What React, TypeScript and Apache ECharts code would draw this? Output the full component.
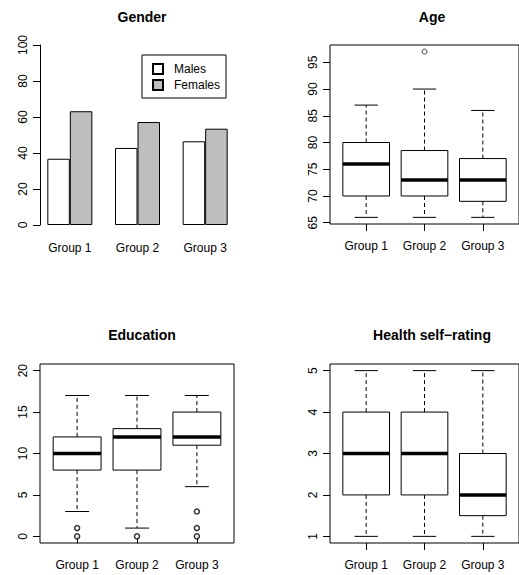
import React, { useEffect, useRef } from 'react';
import * as echarts from 'echarts';

const groups = ['Group 1', 'Group 2', 'Group 3'];
const males = [36.8, 42.8, 46.5];
const females = [63.2, 57.2, 53.5];

// [x, lowerWhisker, q1, median, q3, upperWhisker]
const ageBoxes = [
  [1, 66, 70, 76, 80, 87],
  [2, 66, 70, 73, 78.5, 90],
  [3, 66, 69, 73, 77, 86]
];
const ageOutliers = [[2, 97]];
const ageTicks = [65, 70, 75, 80, 85, 90, 95];

const eduBoxes = [
  [1, 3, 8, 10, 12, 17],
  [2, 1, 8, 12, 13, 17],
  [3, 6, 11, 12, 15, 17]
];
const eduOutliers = [[1, 1], [1, 0], [2, 0], [3, 3], [3, 1], [3, 0]];
const eduTicks = [0, 5, 10, 15, 20];

const healthBoxes = [
  [1, 1, 2, 3, 4, 5],
  [2, 1, 2, 3, 4, 5],
  [3, 1, 1.5, 2, 3, 5]
];
const healthTicks = [1, 2, 3, 4, 5];

const font = 'Liberation Sans, Arial, sans-serif';

const renderBox = (params: any, api: any) => {
  const x = api.value(0);
  const lo = api.value(1), q1 = api.value(2), med = api.value(3), q3 = api.value(4), hi = api.value(5);
  const p = (xv: number, yv: number) => api.coord([xv, yv]);
  const [l, top] = p(x - 0.4, q3);
  const [r, bottom] = p(x + 0.4, q1);
  const [cx, yMed] = p(x, med);
  const yLo = p(x, lo)[1];
  const yHi = p(x, hi)[1];
  const cl = p(x - 0.2, lo)[0];
  const cr = p(x + 0.2, lo)[0];
  const line = (x1: number, y1: number, x2: number, y2: number, w: number, dash?: number[]) => ({
    type: 'line',
    shape: { x1, y1, x2, y2 },
    style: { stroke: '#000', lineWidth: w, lineDash: dash }
  });
  return {
    type: 'group',
    children: [
      line(cx, bottom, cx, yLo, 1, [4, 3]),
      line(cx, top, cx, yHi, 1, [4, 3]),
      line(cl, yLo, cr, yLo, 1),
      line(cl, yHi, cr, yHi, 1),
      { type: 'rect', shape: { x: l, y: top, width: r - l, height: bottom - top }, style: { fill: '#fff', stroke: '#000', lineWidth: 1 } },
      line(l, yMed, r, yMed, 3.5)
    ]
  };
};

const App = () => {
  const chartRef = useRef<HTMLDivElement>(null);

  useEffect(() => {
    document.body.style.margin = '0';
    let chart: echarts.EChartsType | null = null;
    if (chartRef.current) {
      chart = echarts.init(chartRef.current, null, { renderer: 'svg' });

      const boxGrid = (left: number, top: number) => ({
        left, top, width: 194, height: 179, show: true, borderColor: '#000', borderWidth: 1, backgroundColor: 'transparent'
      });
      const boxX = (gridIndex: number) => ({
        type: 'value', gridIndex, min: 0.38, max: 3.62,
        splitLine: { show: false }, axisLine: { show: false },
        axisTick: { show: true, length: 7, customValues: [1, 2, 3], lineStyle: { color: '#000' } },
        axisLabel: { customValues: [1, 2, 3], formatter: (v: number) => `Group ${v}`, margin: 16, color: '#000', fontSize: 12, fontFamily: font }
      });
      const boxY = (gridIndex: number, min: number, max: number, ticks: number[]) => ({
        type: 'value', gridIndex, min, max,
        splitLine: { show: false }, axisLine: { show: false },
        axisTick: { show: true, length: 7, customValues: ticks, lineStyle: { color: '#000' } },
        axisLabel: { customValues: ticks, rotate: 90, margin: 11, color: '#000', fontSize: 12, fontFamily: font }
      });
      const titleStyle = { fontSize: 14, fontWeight: 'bold', color: '#000', fontFamily: font };

      chart.setOption({
        animation: false,
        title: [
          { text: 'Gender', left: 137, top: 5, textAlign: 'center', textStyle: titleStyle },
          { text: 'Age', left: 427, top: 5, textAlign: 'center', textStyle: titleStyle },
          { text: 'Education', left: 137, top: 323, textAlign: 'center', textStyle: titleStyle },
          { text: 'Health self\u2212rating', left: 427, top: 323, textAlign: 'center', textStyle: titleStyle }
        ],
        legend: {
          data: ['Males', 'Females'], orient: 'vertical', left: 142, top: 55,
          borderColor: '#000', borderWidth: 1, borderRadius: 0, padding: [8, 6, 7, 10],
          itemWidth: 10, itemHeight: 10, itemGap: 4, icon: 'rect',
          textStyle: { fontSize: 12, color: '#000', fontFamily: font, padding: [0, 0, 0, 6] }
        },
        grid: [
          { left: 36, top: 45, width: 203, height: 180 },
          boxGrid(330, 45),
          boxGrid(40, 364),
          boxGrid(330, 364)
        ],
        xAxis: [
          {
            type: 'category', gridIndex: 0, data: groups,
            axisLine: { show: false }, axisTick: { show: false },
            axisLabel: { margin: 17, color: '#000', fontSize: 12, fontFamily: font }
          },
          boxX(1), boxX(2), boxX(3)
        ],
        yAxis: [
          {
            type: 'value', gridIndex: 0, min: 0, max: 100, interval: 20, offset: -4,
            splitLine: { show: false },
            axisLine: { show: true, lineStyle: { color: '#000' } },
            axisTick: { show: true, length: 7, lineStyle: { color: '#000' } },
            axisLabel: { rotate: 90, margin: 11, color: '#000', fontSize: 12, fontFamily: font }
          },
          boxY(1, 64.76, 98.24, ageTicks),
          boxY(2, -0.8, 20.8, eduTicks),
          boxY(3, 0.84, 5.16, healthTicks)
        ],
        series: [
          { name: 'Males', type: 'bar', xAxisIndex: 0, yAxisIndex: 0, data: males, barWidth: 22.5, barGap: '0%', itemStyle: { color: '#fff', borderColor: '#000', borderWidth: 1 } },
          { name: 'Females', type: 'bar', xAxisIndex: 0, yAxisIndex: 0, data: females, barWidth: 22.5, barGap: '0%', itemStyle: { color: '#bebebe', borderColor: '#000', borderWidth: 1 } },
          { type: 'custom', xAxisIndex: 1, yAxisIndex: 1, data: ageBoxes, renderItem: renderBox, encode: { x: 0, y: [1, 2, 3, 4, 5] } },
          { type: 'custom', xAxisIndex: 2, yAxisIndex: 2, data: eduBoxes, renderItem: renderBox, encode: { x: 0, y: [1, 2, 3, 4, 5] } },
          { type: 'custom', xAxisIndex: 3, yAxisIndex: 3, data: healthBoxes, renderItem: renderBox, encode: { x: 0, y: [1, 2, 3, 4, 5] } },
          { type: 'scatter', xAxisIndex: 1, yAxisIndex: 1, data: ageOutliers, symbol: 'circle', symbolSize: 5, itemStyle: { color: '#fff', borderColor: '#000', borderWidth: 1 } },
          { type: 'scatter', xAxisIndex: 2, yAxisIndex: 2, data: eduOutliers, symbol: 'circle', symbolSize: 5, itemStyle: { color: '#fff', borderColor: '#000', borderWidth: 1.5 } }
        ]
      });
    }
    return () => {
      chart?.dispose();
    };
  }, []);

  return <div ref={chartRef} style={{ width: '519px', height: '575px' }}></div>;
};

export default App;
